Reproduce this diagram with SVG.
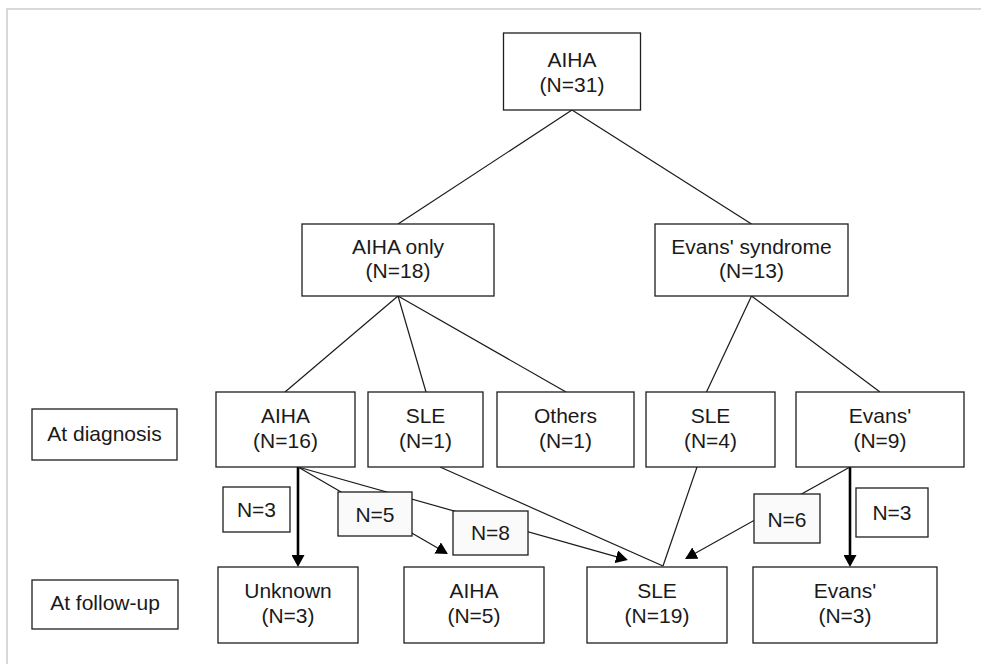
<svg xmlns="http://www.w3.org/2000/svg" width="981" height="664" viewBox="0 0 981 664">
<style>
  .box { fill: #ffffff; stroke: #1e1e1e; stroke-width: 1.3; }
  .lbl { fill: #fafafa; stroke: #1e1e1e; stroke-width: 1.3; }
  .t { font-family: "Liberation Sans", Arial, sans-serif; font-size: 21px; fill: #1a1a1a; text-anchor: middle; }
  .ln { stroke: #1a1a1a; stroke-width: 1.2; fill: none; }
  .thick { stroke: #000000; stroke-width: 2.6; fill: none; }
</style>
<defs>
  <marker id="ah" markerUnits="userSpaceOnUse" viewBox="0 0 12 13" refX="8" refY="6.5" markerWidth="12" markerHeight="13" orient="auto">
    <path d="M0,0 L12,6.5 L0,13 z" fill="#000000"/>
  </marker>
</defs>
<rect x="0" y="0" width="981" height="664" fill="#ffffff"/>
<path d="M7,664 L7,9 L981,9" fill="none" stroke="#d9d9d9" stroke-width="2"/>

<g id="connectors">
  <line class="ln" x1="572" y1="110" x2="398" y2="224"/>
  <line class="ln" x1="572" y1="110" x2="751.5" y2="224"/>
  <line class="ln" x1="398" y1="296" x2="285" y2="392"/>
  <line class="ln" x1="398" y1="296" x2="426" y2="392"/>
  <line class="ln" x1="398" y1="296" x2="566" y2="392"/>
  <line class="ln" x1="751.5" y1="296" x2="706.5" y2="392"/>
  <line class="ln" x1="751.5" y1="296" x2="880" y2="392"/>
  <line class="ln" x1="440" y1="467" x2="663" y2="566"/>
  <line class="ln" x1="697" y1="467" x2="663" y2="566"/>
  <line class="thick" x1="298" y1="467" x2="298" y2="563" marker-end="url(#ah)"/>
  <line class="thick" x1="850" y1="467" x2="850" y2="563" marker-end="url(#ah)"/>
  <line class="ln" x1="298" y1="467" x2="444.5" y2="552" marker-end="url(#ah)"/>
  <line class="ln" x1="298" y1="467" x2="624" y2="558.9" marker-end="url(#ah)"/>
  <line class="ln" x1="850" y1="467" x2="688.5" y2="557" marker-end="url(#ah)"/>
</g>

<g id="n-aiha-root">
  <rect class="box" x="503.5" y="33" width="137" height="77"/>
  <text class="t" x="572" y="67">AIHA</text>
  <text class="t" x="572" y="92">(N=31)</text>
</g>
<g id="n-aiha-only">
  <rect class="box" x="302" y="224" width="192" height="72"/>
  <text class="t" x="398" y="254">AIHA only</text>
  <text class="t" x="398" y="278">(N=18)</text>
</g>
<g id="n-evans-syndrome">
  <rect class="box" x="655" y="224" width="193" height="72"/>
  <text class="t" x="751.5" y="254">Evans' syndrome</text>
  <text class="t" x="751.5" y="278">(N=13)</text>
</g>

<g id="n-at-diagnosis">
  <rect class="box" x="32" y="409" width="145" height="51"/>
  <text class="t" x="104.5" y="441">At diagnosis</text>
</g>
<g id="n-diag-aiha">
  <rect class="box" x="216" y="392" width="139" height="75"/>
  <text class="t" x="285.5" y="423">AIHA</text>
  <text class="t" x="285.5" y="448">(N=16)</text>
</g>
<g id="n-diag-sle1">
  <rect class="box" x="368" y="392" width="115" height="75"/>
  <text class="t" x="425.5" y="423">SLE</text>
  <text class="t" x="425.5" y="448">(N=1)</text>
</g>
<g id="n-diag-others">
  <rect class="box" x="497" y="392" width="137" height="75"/>
  <text class="t" x="565.5" y="423">Others</text>
  <text class="t" x="565.5" y="448">(N=1)</text>
</g>
<g id="n-diag-sle4">
  <rect class="box" x="646" y="392" width="129" height="75"/>
  <text class="t" x="710.5" y="423">SLE</text>
  <text class="t" x="710.5" y="448">(N=4)</text>
</g>
<g id="n-diag-evans">
  <rect class="box" x="796" y="392" width="168" height="75"/>
  <text class="t" x="880" y="423">Evans'</text>
  <text class="t" x="880" y="448">(N=9)</text>
</g>

<g id="l-n3-left">
  <rect class="box" x="223" y="487" width="67" height="45"/>
  <text class="t" x="256.5" y="517">N=3</text>
</g>
<g id="l-n5">
  <rect class="lbl" x="338" y="492" width="74" height="44"/>
  <text class="t" x="375" y="522">N=5</text>
</g>
<g id="l-n8">
  <rect class="lbl" x="453" y="511" width="75" height="44"/>
  <text class="t" x="490.5" y="540">N=8</text>
</g>
<g id="l-n6">
  <rect class="lbl" x="754" y="494" width="66" height="49"/>
  <text class="t" x="787" y="527">N=6</text>
</g>
<g id="l-n3-right">
  <rect class="box" x="856" y="488" width="72" height="49"/>
  <text class="t" x="892" y="520">N=3</text>
</g>

<g id="n-at-follow-up">
  <rect class="box" x="32" y="580" width="146" height="49"/>
  <text class="t" x="105" y="610">At follow-up</text>
</g>
<g id="n-fu-unknown">
  <rect class="box" x="218" y="567" width="140" height="76"/>
  <text class="t" x="288" y="598">Unknown</text>
  <text class="t" x="288" y="623">(N=3)</text>
</g>
<g id="n-fu-aiha">
  <rect class="box" x="404" y="567" width="140" height="76"/>
  <text class="t" x="474" y="598">AIHA</text>
  <text class="t" x="474" y="623">(N=5)</text>
</g>
<g id="n-fu-sle">
  <rect class="box" x="587" y="567" width="140" height="76"/>
  <text class="t" x="657" y="598">SLE</text>
  <text class="t" x="657" y="623">(N=19)</text>
</g>
<g id="n-fu-evans">
  <rect class="box" x="753" y="567" width="184" height="76"/>
  <text class="t" x="845" y="598">Evans'</text>
  <text class="t" x="845" y="623">(N=3)</text>
</g>
</svg>
